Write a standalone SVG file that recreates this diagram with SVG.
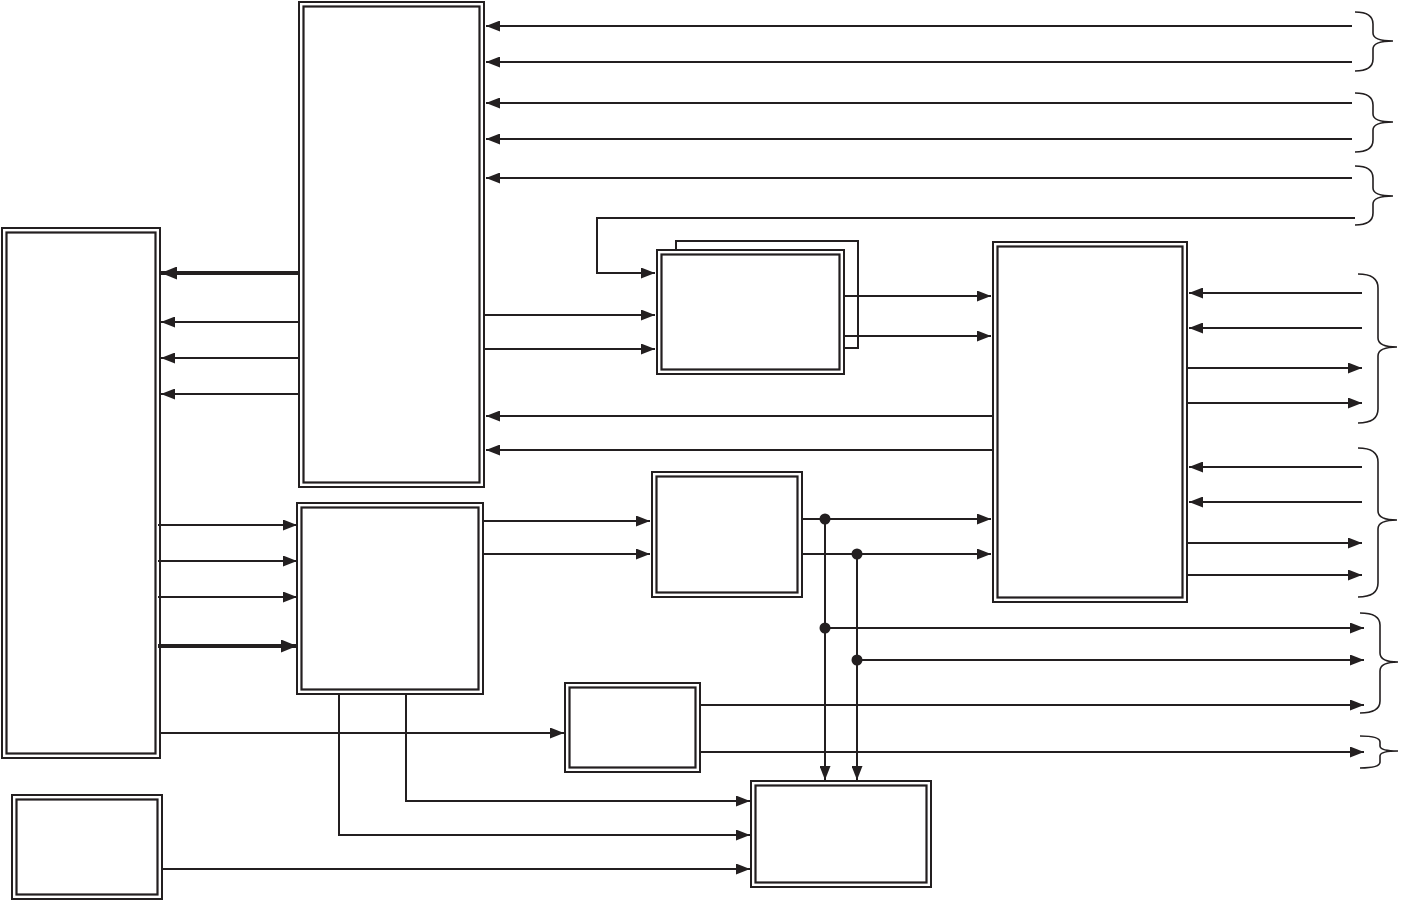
<svg xmlns="http://www.w3.org/2000/svg" width="1402" height="901" viewBox="0 0 1402 901">
<style>
.bo{fill:none;stroke:#231f20;stroke-width:2}
.bi{fill:none;stroke:#231f20;stroke-width:2.2}
.c{fill:none;stroke:#231f20;stroke-width:2}
.ct{fill:none;stroke:#231f20;stroke-width:4}
.br{fill:none;stroke:#231f20;stroke-width:1.6}
.dot{fill:#231f20}
</style>
<defs>
<marker id="a" viewBox="0 0 14 11" markerWidth="14" markerHeight="11" refX="14" refY="5.5" orient="auto" markerUnits="userSpaceOnUse"><path d="M0,0 L14,5.5 L0,11 z" fill="#231f20"/></marker>
<marker id="at" viewBox="0 0 16 13" markerWidth="16" markerHeight="13" refX="16" refY="6.5" orient="auto" markerUnits="userSpaceOnUse"><path d="M0,0 L16,6.5 L0,13 z" fill="#231f20"/></marker>
</defs>
<rect width="1402" height="901" fill="#fff"/>
<g id="nodeA"><rect class="bo" x="2" y="228" width="158" height="530"/><rect class="bi" x="6.5" y="232.5" width="149" height="521"/></g>
<g id="nodeB"><rect class="bo" x="299" y="2" width="185" height="485"/><rect class="bi" x="303.5" y="6.5" width="176" height="476"/></g>
<g id="nodeC"><rect class="bo" x="297" y="503" width="186" height="191"/><rect class="bi" x="301.5" y="507.5" width="177" height="182"/></g>
<g id="nodeD"><polyline class="c" points="676,251 676,241 858,241 858,348 845,348"/><rect class="bo" x="657" y="250" width="187" height="124"/><rect class="bi" x="661.5" y="254.5" width="178" height="115"/></g>
<g id="nodeE"><rect class="bo" x="993" y="242" width="194" height="360"/><rect class="bi" x="997.5" y="246.5" width="185" height="351"/></g>
<g id="nodeF"><rect class="bo" x="652" y="472" width="150" height="125"/><rect class="bi" x="656.5" y="476.5" width="141" height="116"/></g>
<g id="nodeG"><rect class="bo" x="565" y="683" width="135" height="89"/><rect class="bi" x="569.5" y="687.5" width="126" height="80"/></g>
<g id="nodeH"><rect class="bo" x="751" y="781" width="180" height="106"/><rect class="bi" x="755.5" y="785.5" width="171" height="97"/></g>
<g id="nodeI"><rect class="bo" x="12" y="795" width="150" height="104"/><rect class="bi" x="16.5" y="799.5" width="141" height="95"/></g>
<g id="connectors">
<line class="c" x1="1352" y1="26" x2="486" y2="26" marker-end="url(#a)"/>
<line class="c" x1="1352" y1="62" x2="486" y2="62" marker-end="url(#a)"/>
<line class="c" x1="1352" y1="103" x2="486" y2="103" marker-end="url(#a)"/>
<line class="c" x1="1352" y1="139" x2="486" y2="139" marker-end="url(#a)"/>
<line class="c" x1="1352" y1="178" x2="486" y2="178" marker-end="url(#a)"/>
<polyline class="c" points="1355,218 597,218 597,273 655,273" marker-end="url(#a)"/>
<line class="ct" x1="299" y1="273" x2="161" y2="273" marker-end="url(#at)"/>
<line class="c" x1="299" y1="322" x2="161" y2="322" marker-end="url(#a)"/>
<line class="c" x1="299" y1="358" x2="161" y2="358" marker-end="url(#a)"/>
<line class="c" x1="299" y1="394" x2="161" y2="394" marker-end="url(#a)"/>
<line class="c" x1="484" y1="315" x2="655" y2="315" marker-end="url(#a)"/>
<line class="c" x1="484" y1="349" x2="655" y2="349" marker-end="url(#a)"/>
<line class="c" x1="845" y1="296" x2="991" y2="296" marker-end="url(#a)"/>
<line class="c" x1="845" y1="336" x2="991" y2="336" marker-end="url(#a)"/>
<line class="c" x1="993" y1="416" x2="486" y2="416" marker-end="url(#a)"/>
<line class="c" x1="993" y1="450" x2="486" y2="450" marker-end="url(#a)"/>
<line class="c" x1="1362" y1="293" x2="1189" y2="293" marker-end="url(#a)"/>
<line class="c" x1="1362" y1="328" x2="1189" y2="328" marker-end="url(#a)"/>
<line class="c" x1="1187" y1="368" x2="1362" y2="368" marker-end="url(#a)"/>
<line class="c" x1="1187" y1="403" x2="1362" y2="403" marker-end="url(#a)"/>
<line class="c" x1="1362" y1="467" x2="1189" y2="467" marker-end="url(#a)"/>
<line class="c" x1="1362" y1="502" x2="1189" y2="502" marker-end="url(#a)"/>
<line class="c" x1="1187" y1="543" x2="1362" y2="543" marker-end="url(#a)"/>
<line class="c" x1="1187" y1="575" x2="1362" y2="575" marker-end="url(#a)"/>
<line class="c" x1="158" y1="525" x2="297" y2="525" marker-end="url(#a)"/>
<line class="c" x1="158" y1="561" x2="297" y2="561" marker-end="url(#a)"/>
<line class="c" x1="158" y1="597" x2="297" y2="597" marker-end="url(#a)"/>
<line class="ct" x1="158" y1="646" x2="297" y2="646" marker-end="url(#at)"/>
<line class="c" x1="483" y1="521" x2="650" y2="521" marker-end="url(#a)"/>
<line class="c" x1="483" y1="554" x2="650" y2="554" marker-end="url(#a)"/>
<line class="c" x1="802" y1="519" x2="991" y2="519" marker-end="url(#a)"/>
<line class="c" x1="802" y1="554" x2="991" y2="554" marker-end="url(#a)"/>
<line class="c" x1="825" y1="519" x2="825" y2="780" marker-end="url(#a)"/>
<line class="c" x1="857" y1="554" x2="857" y2="780" marker-end="url(#a)"/>
<line class="c" x1="825" y1="628" x2="1364" y2="628" marker-end="url(#a)"/>
<line class="c" x1="857" y1="660" x2="1364" y2="660" marker-end="url(#a)"/>
<circle class="dot" cx="825" cy="519" r="5.5"/>
<circle class="dot" cx="857" cy="554" r="5.5"/>
<circle class="dot" cx="825" cy="628" r="5.5"/>
<circle class="dot" cx="857" cy="660" r="5.5"/>
<line class="c" x1="700" y1="705" x2="1364" y2="705" marker-end="url(#a)"/>
<line class="c" x1="700" y1="752" x2="1364" y2="752" marker-end="url(#a)"/>
<line class="c" x1="160" y1="733" x2="564" y2="733" marker-end="url(#a)"/>
<polyline class="c" points="406,694 406,801 750,801" marker-end="url(#a)"/>
<polyline class="c" points="339,694 339,835 750,835" marker-end="url(#a)"/>
<line class="c" x1="162" y1="869" x2="750" y2="869" marker-end="url(#a)"/>
<path class="br" d="M1355,12 Q1373,12 1373,24 L1373,33 Q1373,41 1393,41 Q1373,41 1373,49 L1373,59 Q1373,71 1355,71"/>
<path class="br" d="M1355,93 Q1373,93 1373,105 L1373,114 Q1373,122 1393,122 Q1373,122 1373,130 L1373,140 Q1373,152 1355,152"/>
<path class="br" d="M1355,166 Q1373,166 1373,178 L1373,188 Q1373,196 1393,196 Q1373,196 1373,204 L1373,213 Q1373,225 1355,225"/>
<path class="br" d="M1358,274 Q1378,274 1378,288 L1378,338 Q1378,347 1397,347 Q1378,347 1378,356 L1378,409 Q1378,423 1358,423"/>
<path class="br" d="M1358,448 Q1378,448 1378,462 L1378,511 Q1378,520 1397,520 Q1378,520 1378,529 L1378,583 Q1378,597 1358,597"/>
<path class="br" d="M1360,613 Q1380,613 1380,625 L1380,653 Q1380,662 1398,662 Q1380,662 1380,671 L1380,701 Q1380,713 1360,713"/>
<path class="br" d="M1360,736 Q1380,736 1380,742 L1380,746 Q1380,751 1398,751 Q1380,751 1380,756 L1380,762 Q1380,768 1360,768"/>
</g>
</svg>
